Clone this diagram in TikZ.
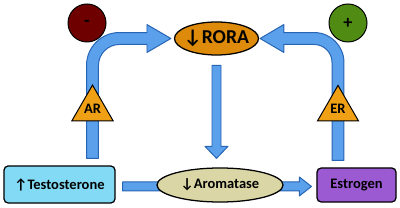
\documentclass[tikz,border=0pt]{standalone}
\usepackage{fontspec}
\setmainfont{Carlito}
\usetikzlibrary{shapes.geometric,calc,backgrounds}

\definecolor{minuscol}{RGB}{110,0,0}
\definecolor{pluscol}{RGB}{80,140,20}
\definecolor{roracol}{RGB}{222,138,10}
\definecolor{receptorcol}{RGB}{240,160,20}
\definecolor{tescol}{RGB}{130,218,245}
\definecolor{aromcol}{RGB}{218,214,165}
\definecolor{estcol}{RGB}{155,90,210}
\definecolor{arrowfill}{RGB}{90,160,235}
\definecolor{arrowline}{RGB}{40,100,180}

\tikzset{
  hormone/.style={rectangle, rounded corners=3pt, draw, line width=0.9pt, inner sep=0pt,
    font=\fontsize{10.3}{12}\selectfont\bfseries},
  enzyme/.style={ellipse, draw, line width=0.9pt, inner sep=0pt,
    font=\fontsize{10.3}{12}\selectfont\bfseries},
  receptor/.style={regular polygon, regular polygon sides=3, draw, line width=0.7pt,
    fill=receptorcol, minimum size=1.18cm, inner sep=0pt,
    font=\fontsize{10.3}{12}\selectfont\bfseries},
  effect/.style={circle, draw, line width=0.7pt, minimum size=0.95cm, inner sep=0pt,
    font=\fontsize{13}{13}\selectfont\bfseries},
  blockarrow/.style={draw=arrowline, fill=arrowfill, line width=0.7pt, line join=round}
}

\begin{document}
\begin{tikzpicture}[x=0.025cm, y=-0.025cm]
  \useasboundingbox (0,0) rectangle (400,208);

  % -------------------------
  % hormones and enzymes
  % -------------------------
  \node[hormone, fill=tescol, minimum width=2.775cm, minimum height=0.925cm]
    (tes) at (59.5,184.5) {↑Testosterone};
  \node[hormone, fill=estcol, minimum width=1.975cm, minimum height=0.85cm]
    (est) at (356.5,185) {Estrogen};
  \node[enzyme, fill=aromcol, minimum width=3.15cm, minimum height=0.85cm]
    (aro) at (220,185) {↓Aromatase};
  \node[enzyme, fill=roracol, minimum width=2.075cm, minimum height=0.825cm,
    inner xsep=-2pt, font=\fontsize{14}{14}\selectfont\bfseries]
    (rora) at (216.5,38.5) {↓RORA};

  % receptors
  \node[receptor] (ar) at (92.5,109) {AR};
  \node[receptor] (er) at (338,109) {ER};

  % effects
  \node[effect, fill=minuscol] (minus) at (87,23) {-};
  \node[effect, fill=pluscol] (plus) at (348,23) {+};

  % -------------------------
  % block arrows
  % -------------------------
  \begin{scope}[on background layer]
    % testosterone -> AR -> RORA
    \draw[blockarrow] let \p1=(ar |- tes.north), \p2=(rora.west) in
      (\x1-4.25pt,\y1+5pt) -- (\x1-4.25pt,\y2-19.15pt)
      arc[start angle=180, end angle=90, radius=23.4pt]
      -- (\x2-19.1pt,\y2+4.25pt) -- (\x2-19.1pt,\y2+9.9pt) -- (\x2-2.1pt,\y2)
      -- (\x2-19.1pt,\y2-9.9pt) -- (\x2-19.1pt,\y2-4.25pt) -- (\x1+19.15pt,\y2-4.25pt)
      arc[start angle=90, end angle=180, radius=14.9pt]
      -- (\x1+4.25pt,\y1+5pt) -- cycle;

    % estrogen -> ER -> RORA
    \draw[blockarrow] let \p1=(er |- est.north), \p2=(rora.east) in
      (\x1+4.25pt,\y1+5pt) -- (\x1+4.25pt,\y2-17.05pt)
      arc[start angle=0, end angle=90, radius=21.3pt]
      -- (\x2+17.5pt,\y2+4.25pt) -- (\x2+17.5pt,\y2+9.9pt) -- (\x2+0.7pt,\y2)
      -- (\x2+17.5pt,\y2-9.9pt) -- (\x2+17.5pt,\y2-4.25pt) -- (\x1-17.05pt,\y2-4.25pt)
      arc[start angle=90, end angle=0, radius=12.8pt]
      -- (\x1-4.25pt,\y1+5pt) -- cycle;

    % RORA -> aromatase
    \draw[blockarrow] let \p1=(rora.south), \p2=(rora |- aro.north) in
      (\x1-3.2pt,\y1-7pt) -- (\x1-3.2pt,\y2+14.9pt) -- (\x1-8.15pt,\y2+14.9pt)
      -- (\x1,\y2+6.4pt) -- (\x1+8.15pt,\y2+14.9pt) -- (\x1+3.2pt,\y2+14.9pt)
      -- (\x1+3.2pt,\y1-7pt) -- cycle;

    % testosterone -> estrogen
    \draw[blockarrow] let \p1=([yshift=-1.4pt]tes.east), \p2=(est.west) in
      (\x1+5pt,\y1+3.2pt) -- (\x2-12pt,\y1+3.2pt) -- (\x2-12pt,\y1+6.7pt)
      -- (\x2-3.5pt,\y1) -- (\x2-12pt,\y1-6.7pt) -- (\x2-12pt,\y1-3.2pt)
      -- (\x1+5pt,\y1-3.2pt) -- cycle;
  \end{scope}

\end{tikzpicture}
\end{document}
